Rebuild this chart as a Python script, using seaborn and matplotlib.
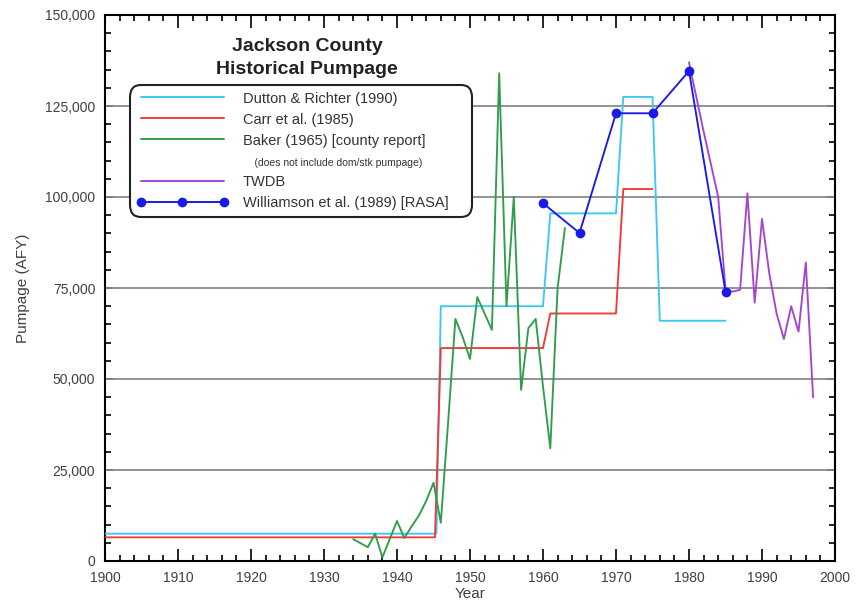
import matplotlib
matplotlib.use('Agg')
import matplotlib.pyplot as plt
import seaborn as sns
import pandas as pd
from matplotlib.lines import Line2D
from matplotlib.ticker import MultipleLocator, FixedLocator

sns.set_theme(style='white')
plt.rcParams['font.family'] = ['Liberation Sans', 'DejaVu Sans']

# ---------------- data ----------------
title_text = "Jackson County\nHistorical Pumpage"
x_label = "Year"
y_label = "Pumpage (AFY)"

series_labels = [
    "Dutton & Richter (1990)",
    "Carr et al. (1985)",
    "Baker (1965) [county report]",
    "TWDB",
    "Williamson et al. (1989) [RASA]",
]
baker_note = "(does not include dom/stk pumpage)"

dutton_years = [1900, 1945.4, 1946, 1960, 1961, 1970, 1971, 1975, 1976, 1985]
dutton_afy = [7500, 7500, 70000, 70000, 95500, 95500, 127500, 127500, 66000, 66000]

carr_years = [1900, 1945.2, 1946, 1960, 1961, 1970, 1971, 1975]
carr_afy = [6500, 6500, 58500, 58500, 68000, 68000, 102200, 102200]

baker_years = [1934, 1936, 1937, 1938, 1940, 1941, 1942, 1943, 1944, 1945, 1946,
               1947, 1948, 1949, 1950, 1951, 1952, 1953, 1954, 1955, 1956, 1957,
               1958, 1959, 1960, 1961, 1962, 1963]
baker_afy = [6000, 3800, 7500, 1000, 11000, 6300, 9500, 12500, 16500, 21500, 10500,
             38000, 66500, 61500, 55500, 72500, 68000, 63500, 134000, 70000, 100000, 47000,
             64000, 66500, 48000, 31000, 75000, 91500]

twdb_years = [1980, 1981, 1982, 1983, 1984, 1985, 1986, 1987, 1988, 1989, 1990,
              1991, 1992, 1993, 1994, 1995, 1996, 1997]
twdb_afy = [137000, 127500, 118000, 109000, 100000, 74500, 74000, 74500, 101000, 71000, 94000,
            79000, 68000, 61000, 70000, 63000, 82000, 45000]

rasa_years = [1960, 1965, 1970, 1975, 1980, 1985]
rasa_afy = [98300, 90100, 123000, 123000, 134600, 74000]

x_ticks = [1900, 1910, 1920, 1930, 1940, 1950, 1960, 1970, 1980, 1990, 2000]
x_tick_labels = ["1900", "1910", "1920", "1930", "1940", "1950", "1960", "1970", "1980", "1990", "2000"]
y_ticks = [0, 25000, 50000, 75000, 100000, 125000, 150000]
y_tick_labels = ["0", "25,000", "50,000", "75,000", "100,000", "125,000", "150,000"]

colors = {
    "dutton": "#3CC8F5",
    "carr": "#F23A3A",
    "baker": "#2E9E4A",
    "twdb": "#A444D2",
    "rasa": "#1A1AE8",
}

# ---------------- figure ----------------
fig = plt.figure(figsize=(8.58, 6.01), dpi=100)
ax = fig.add_axes([105 / 858, 1 - 561 / 601, 730 / 858, 546 / 601])
ax.set_facecolor('white')

for y in y_ticks[1:-1]:
    ax.axhline(y, color='#8a8a8a', lw=1.3, zorder=1)

lw = 1.35
sns.lineplot(x=dutton_years, y=dutton_afy, ax=ax, color=colors["dutton"], lw=lw,
             estimator=None, sort=False, zorder=3)
sns.lineplot(x=carr_years, y=carr_afy, ax=ax, color=colors["carr"], lw=lw,
             estimator=None, sort=False, zorder=3)
sns.lineplot(x=baker_years, y=baker_afy, ax=ax, color=colors["baker"], lw=lw,
             estimator=None, sort=False, zorder=4)
sns.lineplot(x=twdb_years, y=twdb_afy, ax=ax, color=colors["twdb"], lw=lw,
             estimator=None, sort=False, zorder=4)
sns.lineplot(x=rasa_years, y=rasa_afy, ax=ax, color=colors["rasa"], lw=lw,
             marker='o', markersize=7, markeredgewidth=0, estimator=None, sort=False, zorder=5)

ax.set_xlim(1900, 2000)
ax.set_ylim(0, 150000)
ax.xaxis.set_major_locator(FixedLocator(x_ticks))
ax.set_xticklabels(x_tick_labels)
ax.xaxis.set_minor_locator(MultipleLocator(2))
ax.yaxis.set_major_locator(FixedLocator(y_ticks))
ax.set_yticklabels(y_tick_labels)
ax.yaxis.set_minor_locator(MultipleLocator(5000))

ax.tick_params(which='both', direction='in', top=True, right=True, bottom=True, left=True,
               colors='black', labelcolor='#404040', labelsize=10)
ax.tick_params(axis='x', which='major', length=9, width=1.2, pad=7)
ax.tick_params(axis='y', which='major', length=6, width=1.2, pad=7)
ax.tick_params(which='minor', length=4, width=1.2)
for s in ax.spines.values():
    s.set_visible(True)
    s.set_color('black')
    s.set_linewidth(1.5)

ax.set_xlabel(x_label, fontsize=11, color='#404040', labelpad=2)
ax.set_ylabel(y_label, fontsize=11, color='#404040', labelpad=11)

ax.text(1927.7, 138200, title_text, ha='center', va='center', fontsize=14,
        fontweight='bold', color='#222222', linespacing=1.45, zorder=6)

# legend
handles = [
    Line2D([], [], color=colors["dutton"], lw=1.4),
    Line2D([], [], color=colors["carr"], lw=1.4),
    Line2D([], [], color=colors["baker"], lw=1.4),
    Line2D([], [], color='none', lw=0),
    Line2D([], [], color=colors["twdb"], lw=1.4),
    Line2D([], [], color=colors["rasa"], lw=1.4, marker='o', markersize=7, markeredgewidth=0),
]
labels = series_labels[:3] + ["    " + baker_note] + series_labels[3:]
leg = ax.legend(handles, labels, loc='upper left', bbox_to_anchor=(0.034, 0.63, 0.469, 0.242),
                mode='expand', borderaxespad=0, fontsize=10.5, handlelength=6.3,
                handleheight=1.0, handletextpad=1.0, labelspacing=0.45, borderpad=0.45,
                numpoints=3, frameon=True, fancybox=True, framealpha=1)
frame = leg.get_frame()
frame.set_edgecolor('#222222')
frame.set_linewidth(1.5)
frame.set_facecolor('white')
frame.set_boxstyle('round,pad=0.0,rounding_size=0.8')
for t in leg.get_texts():
    t.set_color('#333333')
leg.get_texts()[3].set_fontsize(7.5)
leg.set_zorder(7)

fig.savefig('out.png', dpi=100, facecolor='white')
